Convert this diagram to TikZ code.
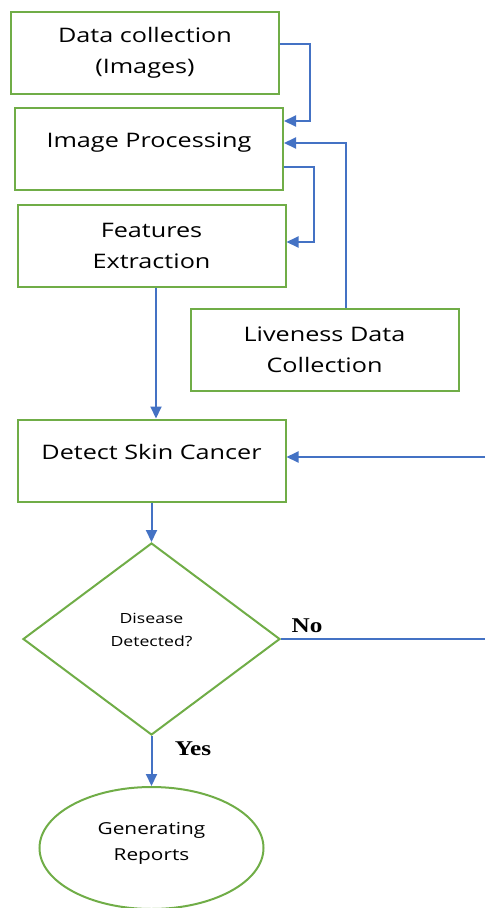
\documentclass[tikz,border=0pt]{standalone}
\usepackage{fontspec}
\setmainfont[FakeStretch=1.26]{Open Sans}
\newfontfamily\answerfont[FakeStretch=1.2]{Liberation Serif}
\usetikzlibrary{arrows.meta,shapes.geometric}
\definecolor{boxgreen}{RGB}{112,173,71}
\definecolor{flowblue}{RGB}{68,114,196}

\begin{document}
\begin{tikzpicture}[x=1pt,y=-1pt,
  procbox/.style={draw=boxgreen,line width=2pt,minimum width=268pt,minimum height=82pt,align=center,font=\fontsize{20}{31}\selectfont},
  upper/.style={text depth=18pt},
  decision/.style={diamond,draw=boxgreen,line width=2pt,minimum width=257pt,minimum height=192pt,align=center,text depth=17.5pt,font=\fontsize{14}{23}\selectfont},
  endoval/.style={ellipse,draw=boxgreen,line width=2pt,minimum width=224pt,minimum height=122pt,align=center,text depth=14pt,font=\fontsize{16.5}{26}\selectfont},
  flow/.style={draw=flowblue,line width=2pt,-{Triangle[length=12pt,width=11pt]}},
  noflow/.style={draw=flowblue,line width=1.5pt},
  answer/.style={font=\answerfont\bfseries\fontsize{21}{21}\selectfont}]
\useasboundingbox (0,0) rectangle (485,908);
\node[procbox] (dcoll) at (145,53) {Data collection\\(Images)};
\node[procbox,upper] (improc) at (149,149) {Image Processing};
\node[procbox] (featx) at (151.5,246) {Features\\Extraction};
\node[procbox] (live) at (324.5,349.5) {Liveness Data\\Collection};
\node[procbox,upper] (detect) at (151.5,460.5) {Detect Skin Cancer};
\node[decision] (decide) at (151.5,639) {Disease\\Detected?};
\node[endoval] (report) at (151.5,848) {Generating\\Reports};
\coordinate (fx) at ([xshift=4.5pt]featx.south);
\coordinate (rim) at (485,457);
\coordinate (rimno) at (decide.east -| rim);
\draw[flow] ([yshift=9pt]dcoll.east) -- ++(30,0) |- ([yshift=28pt]improc.east);
\draw[flow] ([xshift=21.5pt]live.north) |- ([yshift=6pt]improc.east);
\draw[flow] ([yshift=-18pt]improc.east) -- ++(30,0) |- ([yshift=4pt]featx.east);
\draw[flow] (fx) -- (fx |- detect.north);
\draw[flow] (rim) -- (rim -| detect.east);
\draw[flow] (detect.south) -- (decide.north);
\draw[noflow] (decide.east) -- (rimno);
\draw[flow] (decide.south) -- (report.north);
\node[answer] (nolbl) at (307,626) {No};
\node[answer] (yeslbl) at (193,749) {Yes};
\end{tikzpicture}
\end{document}
